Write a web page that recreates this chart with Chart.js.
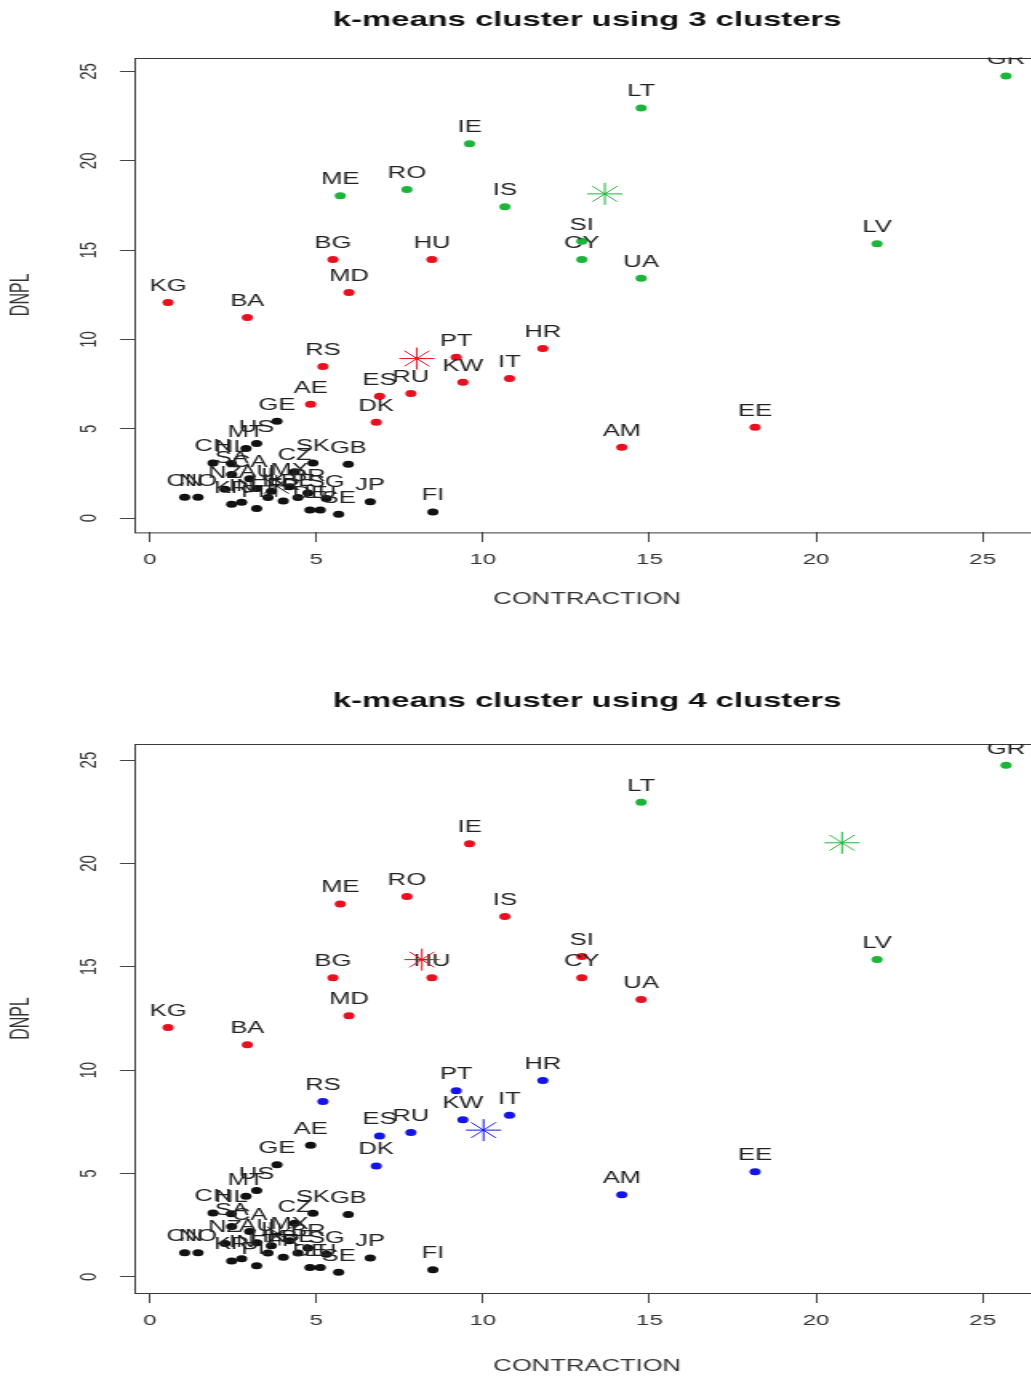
<!DOCTYPE html>
<html>
<head>
<meta charset="utf-8">
<title>k-means clusters</title>
<script src="https://cdn.jsdelivr.net/npm/chart.js@4.4.1/dist/chart.umd.min.js"></script>
<style>
  html, body { margin: 0; padding: 0; background: #fff; overflow: hidden; width: 1031px; height: 1378px; }
  .wrap { position: absolute; left: 0; transform-origin: 0 0; transform: scaleX(1.6); }
</style>
</head>
<body>
<div class="wrap" style="top:0"><canvas id="chart3" width="650" height="650"></canvas></div>
<div class="wrap" style="top:650px"><canvas id="chart4" width="650" height="728"></canvas></div>
<script>
// country codes and the two variables
const countries = ["GR", "LT", "LV", "IE", "ME", "RO", "IS", "SI", "CY", "UA",
  "BG", "HU", "MD", "KG", "BA", "RS", "PT", "HR", "KW", "IT", "ES", "RU", "DK", "AM", "EE",
  "AE", "GE", "US", "MT", "CH", "NL", "SA", "CZ", "SK", "GB", "NZ", "AU", "IL", "MX", "BR",
  "SG", "CA", "HK", "BE", "CN", "NO", "KR", "IN", "PL", "FR", "DE", "LU", "SE", "JP", "FI"];
const contraction = [25.7, 14.75, 21.83, 9.6, 5.72, 7.72, 10.66, 12.97, 12.97, 14.75,
  5.5, 8.47, 5.98, 0.55, 2.93, 5.2, 9.2, 11.8, 9.4, 10.8, 6.9, 7.84, 6.8, 14.17, 18.17,
  4.83, 3.82, 3.21, 2.89, 1.9, 2.45, 2.46, 4.35, 4.9, 5.96, 2.26, 3.22, 3.65, 4.2, 4.75,
  5.3, 3.0, 3.55, 4.45, 1.05, 1.45, 2.46, 2.76, 3.21, 4.01, 4.81, 5.12, 5.67, 6.62, 8.5];
const dnpl = [24.75, 22.96, 15.36, 20.95, 18.04, 18.4, 17.43, 15.5, 14.47, 13.42,
  14.47, 14.47, 12.63, 12.07, 11.23, 8.49, 9.0, 9.5, 7.6, 7.82, 6.82, 6.98, 5.36, 3.97, 5.08,
  6.37, 5.42, 4.18, 3.9, 3.09, 3.05, 2.44, 2.6, 3.08, 3.02, 1.62, 1.65, 1.5, 1.75, 1.4,
  1.1, 2.2, 1.15, 1.15, 1.17, 1.17, 0.77, 0.88, 0.54, 0.95, 0.45, 0.45, 0.22, 0.91, 0.34];

// cluster membership: 0 black, 1 red, 2 green, 3 blue
const cluster3 = [2, 2, 2, 2, 2, 2, 2, 2, 2, 2,
  1, 1, 1, 1, 1, 1, 1, 1, 1, 1, 1, 1, 1, 1, 1,
  1, 0, 0, 0, 0, 0, 0, 0, 0, 0, 0, 0, 0, 0, 0,
  0, 0, 0, 0, 0, 0, 0, 0, 0, 0, 0, 0, 0, 0, 0];
const cluster4 = [2, 2, 2, 1, 1, 1, 1, 1, 1, 1,
  1, 1, 1, 1, 1, 3, 3, 3, 3, 3, 3, 3, 3, 3, 3,
  0, 0, 0, 0, 0, 0, 0, 0, 0, 0, 0, 0, 0, 0, 0,
  0, 0, 0, 0, 0, 0, 0, 0, 0, 0, 0, 0, 0, 0, 0];

// cluster centres
const centers3X = [3.8, 8.02, 13.66];
const centers3Y = [1.8, 8.93, 18.15];
const centers4X = [3.9, 8.17, 20.78, 10.02];
const centers4Y = [2.05, 15.35, 21.0, 7.1];

const xTicks = [0, 5, 10, 15, 20, 25];
const yTicks = [0, 5, 10, 15, 20, 25];

const colors = ["#111111", "#e8101e", "#1cb53a", "#1414e6"];

Chart.defaults.font.family = "'Liberation Sans', Arial, Helvetica, sans-serif";
Chart.defaults.color = "#333";

function buildDatasets(assign, cx, cy) {
  const sets = [{
    label: "centres",
    data: cx.map((x, i) => ({ x: x, y: cy[i] })),
    pointStyle: "star",
    pointRadius: 11,
    pointBorderWidth: 1,
    pointBorderColor: cx.map((_, i) => colors[i]),
    pointBackgroundColor: "transparent",
  }];
  for (let c = 0; c < cx.length; c++) {
    const pts = [];
    countries.forEach((name, i) => {
      if (assign[i] === c) pts.push({ x: contraction[i], y: dnpl[i], name: name });
    });
    sets.push({
      label: "cluster " + (c + 1),
      data: pts,
      pointStyle: "circle",
      pointRadius: 3.5,
      pointBorderWidth: 0,
      pointBackgroundColor: colors[c],
      pointBorderColor: colors[c],
    });
  }
  return sets;
}

// country codes above each point, clipped to the plot like R's text()
const pointLabels = {
  id: "pointLabels",
  beforeDatasetDraw(chart, args) {
    if (args.index !== 0) return;
    const { ctx, chartArea: a } = chart;
    ctx.save();
    ctx.beginPath();
    ctx.rect(a.left, a.top, a.right - a.left, a.bottom - a.top);
    ctx.clip();
    ctx.font = "16px 'Liberation Sans', Arial, sans-serif";
    ctx.fillStyle = "#222";
    ctx.textAlign = "center";
    ctx.textBaseline = "middle";
    chart.data.datasets.forEach((ds, di) => {
      if (di === 0) return;
      chart.getDatasetMeta(di).data.forEach((el, j) => {
        ctx.fillText(ds.data[j].name, el.x, el.y - 16);
      });
    });
    ctx.restore();
  },
};

const frame = {
  id: "frame",
  beforeDatasetsDraw(chart) {
    const { ctx, chartArea: a } = chart;
    ctx.save();
    ctx.strokeStyle = "#3a3a3a";
    ctx.lineWidth = 1;
    ctx.strokeRect(Math.round(a.left) + 0.5, Math.round(a.top) + 0.5, a.right - a.left, a.bottom - a.top);
    ctx.restore();
  },
};

function makeChart(id, title, assign, cx, cy, opts) {
  new Chart(document.getElementById(id), {
    type: "scatter",
    data: { datasets: buildDatasets(assign, cx, cy) },
    options: {
      responsive: false,
      animation: false,
      events: [],
      layout: { padding: 0, autoPadding: false },
      plugins: {
        legend: { display: false },
        tooltip: { enabled: false },
        title: {
          display: true,
          text: title,
          fullSize: false,
          color: "#111",
          font: { size: 20.5, weight: "bold" },
          padding: { top: opts.titleTop, bottom: opts.titleBottom },
        },
      },
      scales: {
        x: {
          type: "linear",
          min: -0.46,
          max: 26.72,
          afterBuildTicks: (axis) => { axis.ticks = xTicks.map((v) => ({ value: v })); },
          afterFit: (axis) => {
            axis.height = opts.xAxisHeight;
            axis.paddingLeft = 0;
            axis.paddingRight = 0;
          },
          border: { display: false },
          grid: { display: true, drawOnChartArea: false, drawTicks: true, tickLength: 10, color: "#444" },
          ticks: { padding: 9, autoSkip: false, maxRotation: 0, font: { size: 15 }, color: "#333" },
          title: {
            display: true,
            text: "CONTRACTION",
            color: "#333",
            font: { size: 16 },
            padding: { top: 0, bottom: opts.xTitleBottom },
          },
        },
        y: {
          type: "linear",
          min: -0.78,
          max: 25.78,
          afterBuildTicks: (axis) => { axis.ticks = yTicks.map((v) => ({ value: v })); },
          afterFit: (axis) => {
            axis.width = 84;
            axis.paddingTop = 0;
            axis.paddingBottom = 0;
          },
          border: { display: false },
          grid: { display: true, drawOnChartArea: false, drawTicks: true, tickLength: 9, color: "#444" },
          ticks: { padding: 10.5, minRotation: 90, maxRotation: 90, crossAlign: "center", font: { size: 15 }, color: "#333" },
          title: {
            display: true,
            text: "DNPL",
            color: "#333",
            font: { size: 16 },
            padding: { top: 4, bottom: 0 },
          },
        },
      },
    },
    plugins: [frame, pointLabels],
  });
}

makeChart("chart3", "k-means cluster using 3 clusters", cluster3, centers3X, centers3Y,
  { titleTop: 8, titleBottom: 25, xAxisHeight: 118, xTitleBottom: 41 });
makeChart("chart4", "k-means cluster using 4 clusters", cluster4, centers4X, centers4Y,
  { titleTop: 39, titleBottom: 30.4, xAxisHeight: 85, xTitleBottom: 1.5 });
</script>
</body>
</html>
